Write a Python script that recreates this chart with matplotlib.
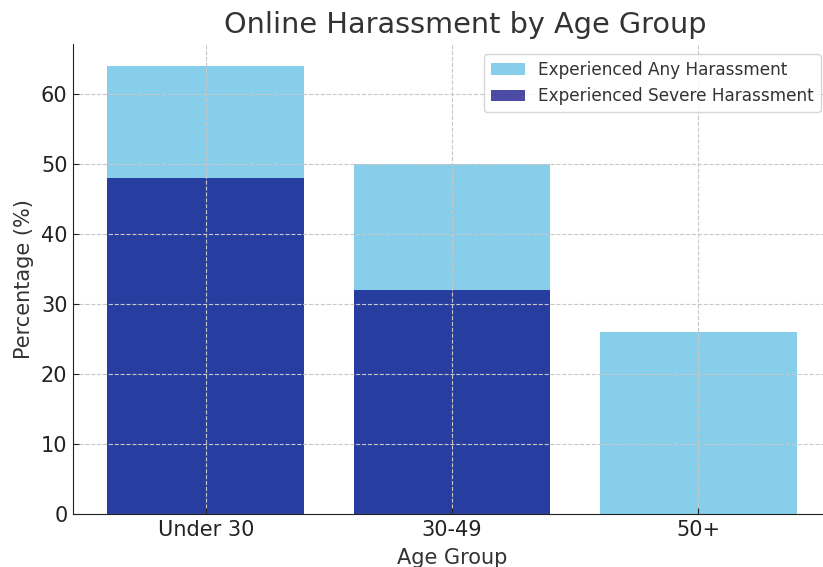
import matplotlib
matplotlib.use("Agg")
import matplotlib.pyplot as plt
import numpy as np

age_groups = ["Under 30", "30-49", "50+"]
any_harassment = [64, 50, 26]
severe_harassment = [48, 32, 0]

plt.rcParams['text.color'] = '#333333'
plt.rcParams['axes.labelcolor'] = '#333333'

fig = plt.figure(figsize=(8.23, 5.67), dpi=100)
ax = fig.add_axes([73 / 823, 1 - 514 / 567, (831 - 73) / 823, (514 - 44) / 567])

x = np.arange(len(age_groups))
ax.bar(x, any_harassment, width=0.8, color='skyblue', label='Experienced Any Harassment')
ax.bar(x, severe_harassment, width=0.8, color='navy', alpha=0.7, label='Experienced Severe Harassment')

ax.set_xticks(x)
ax.set_xticklabels(age_groups)
ax.set_title('Online Harassment by Age Group', fontsize=20.7, pad=8, x=0.518)
ax.set_xlabel('Age Group', fontsize=15, labelpad=6)
ax.set_ylabel('Percentage (%)', fontsize=15, labelpad=5)
ax.tick_params(labelsize=15, direction='in', length=4, pad=4, colors='#222222')
ax.grid(True, linestyle='--', color='#c8c8c8', linewidth=0.8)
ax.spines['top'].set_visible(False)
ax.spines['right'].set_visible(False)
for s in ('left', 'bottom'):
    ax.spines[s].set_color('#222222')
ax.legend(loc='upper right', fontsize=12.2, borderaxespad=0.6)

fig.savefig('out.png', dpi=100)
